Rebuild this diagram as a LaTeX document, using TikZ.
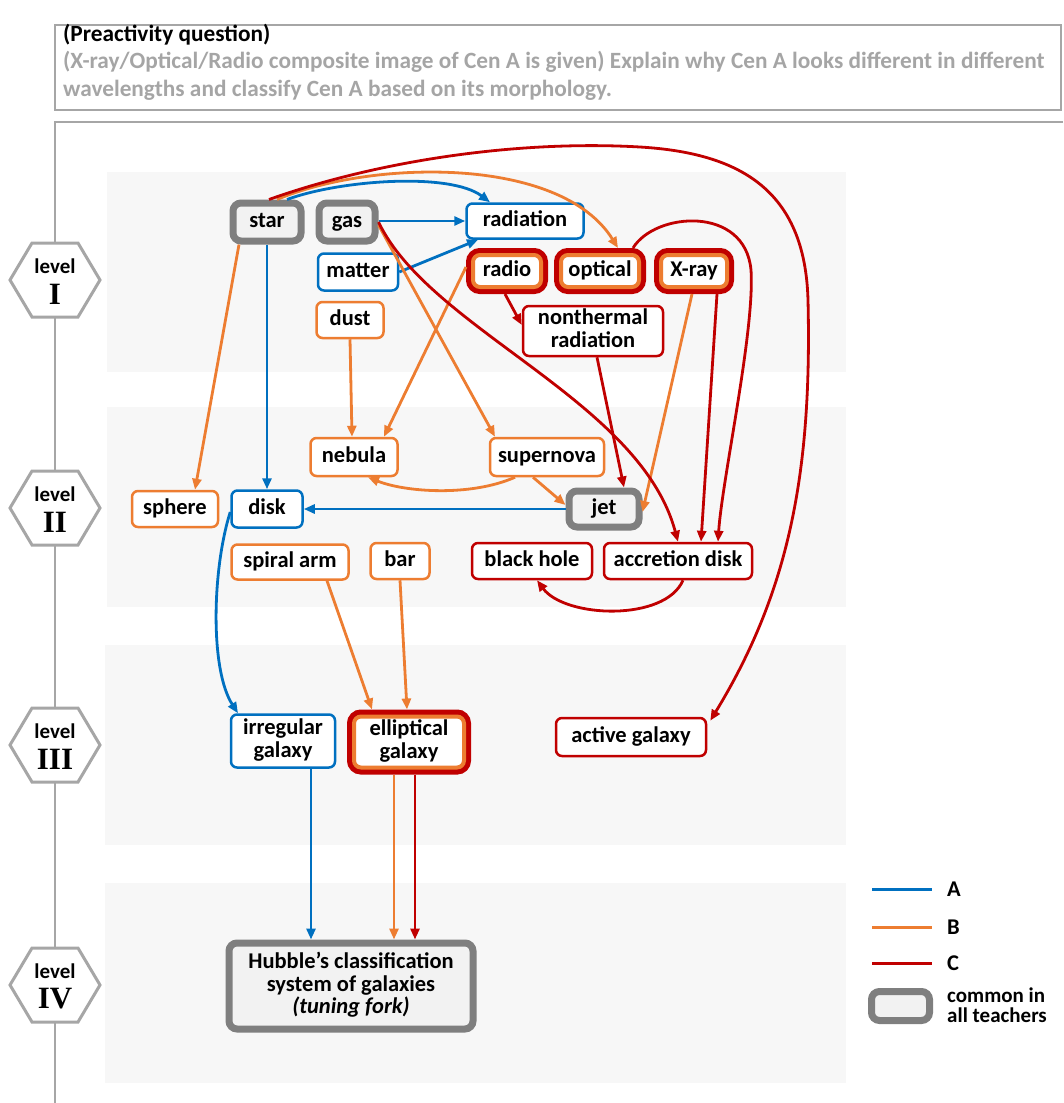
\documentclass[tikz,border=0pt]{standalone}
\usepackage{fontspec}
\setmainfont{Carlito}
\newfontfamily\numfont{Liberation Serif}
\usepackage{xcolor}
\usepackage{tikz}
\usetikzlibrary{arrows.meta}

\definecolor{colA}{HTML}{0070C0}
\definecolor{colB}{HTML}{ED7D31}
\definecolor{colC}{HTML}{C00000}
\definecolor{framegray}{HTML}{A6A6A6}
\definecolor{commongray}{HTML}{7F7F7F}
\definecolor{commonfill}{HTML}{F2F2F2}
\definecolor{bandfill}{HTML}{F7F7F7}
\definecolor{questiongray}{HTML}{A5A5A5}

\tikzset{
    box/.style={rounded corners=6pt, line width=2.5pt, fill=white, inner sep=0pt, align=center,
        font=\fontsize{22.5}{22.5}\selectfont\bfseries, execute at begin node={\rule[-5.6pt]{0pt}{22.6pt}}},
    boxA/.style={box, draw=colA},
    boxB/.style={box, draw=colB},
    boxC/.style={box, draw=colC},
    boxBC/.style={box, draw=colB, line width=4pt, rounded corners=7pt, outer sep=7pt,
        preaction={draw=colC, line width=14pt}},
    common/.style={box, draw=commongray, line width=7pt, fill=commonfill, rounded corners=8pt},
    lineA/.style={colA, line width=2.8pt, -{Triangle[length=11pt,width=9pt]}},
    lineB/.style={colB, line width=2.8pt, -{Triangle[length=11pt,width=9pt]}},
    lineC/.style={colC, line width=2.8pt, -{Triangle[length=11pt,width=9pt]}},
    keyline/.style={line width=3pt},
    hexline/.style={draw=framegray, line width=3pt, fill=white},
    leveltext/.style={font=\fontsize{21}{21}\selectfont\bfseries},
    numtext/.style={font=\numfont\bfseries\fontsize{31}{31}\selectfont},
    plaintext/.style={inner sep=0pt, align=left, font=\fontsize{22.5}{22.5}\selectfont\bfseries}
}

\begin{document}
\begin{tikzpicture}[x=1pt, y=-1pt]
    \useasboundingbox (0,0) rectangle (1063,1103);

    \fill[bandfill] (107,172) rectangle (846,372);
    \fill[bandfill] (107,407) rectangle (846,607);
    \fill[bandfill] (105,645) rectangle (846,845);
    \fill[bandfill] (105,883) rectangle (846,1083);

    \draw[framegray, line width=2.5pt] (55,25) rectangle (1061,110);
    \draw[framegray, line width=2.5pt] (1063,122) -- (55,122) -- (55,1103);

    \node[plaintext, anchor=west, font=\fontsize{23.3}{27.5}\selectfont\bfseries] (question) at (63,62)
        {(Preactivity question)\\
        \textcolor{questiongray}{(X-ray/Optical/Radio composite image of Cen A is given) Explain why Cen A looks different in different}\\
        \textcolor{questiongray}{wavelengths and classify Cen A based on its morphology.}};

    \foreach \lv/\yy in {I/280, II/508, III/745, IV/985} {
        \draw[hexline] (10,\yy) -- (32,\yy-37) -- (78,\yy-37) -- (100,\yy) -- (78,\yy+37) -- (32,\yy+37) -- cycle;
        \node[leveltext] (level\lv) at (55,\yy-14) {level};
        \node[numtext] (num\lv) at (55,\yy+14) {\lv};
    }

    \node[common, minimum width=68pt, minimum height=38pt] (star) at (267,222) {star};
    \node[common, minimum width=56pt, minimum height=38pt] (gas) at (347,222) {gas};
    \node[boxA, minimum width=117pt, minimum height=35pt] (radiation) at (525,221) {radiation};
    \node[boxA, minimum width=80pt, minimum height=37pt] (matter) at (358,272) {matter};
    \node[boxBC, minimum width=68pt, minimum height=32pt] (radio) at (507,271) {radio};
    \node[boxBC, minimum width=78pt, minimum height=32pt] (optical) at (600,271) {optical};
    \node[boxBC, minimum width=66pt, minimum height=32pt] (xray) at (694,271) {X-ray};
    \node[boxB, minimum width=67pt, minimum height=36pt] (dust) at (350,320) {dust};
    \node[boxC, minimum width=140pt, minimum height=50pt] (nonthermal) at (593,331) {nonthermal\\radiation};

    \node[boxB, minimum width=87pt, minimum height=38pt] (nebula) at (354,457) {nebula};
    \node[boxB, minimum width=114pt, minimum height=38pt] (supernova) at (547,457) {supernova};
    \node[boxB, minimum width=86pt, minimum height=36pt] (sphere) at (175,509) {sphere};
    \node[boxA, minimum width=71pt, minimum height=37pt] (disk) at (267,509) {disk};
    \node[common, minimum width=70pt, minimum height=36pt] (jet) at (604,509) {jet};
    \node[boxB, minimum width=117pt, minimum height=35pt] (spiralarm) at (290,562) {spiral arm};
    \node[boxB, minimum width=59pt, minimum height=36pt] (bar) at (400,561) {bar};
    \node[boxC, minimum width=120pt, minimum height=36pt] (blackhole) at (532,561) {black hole};
    \node[boxC, minimum width=148pt, minimum height=36pt] (accretion) at (678,561) {accretion disk};

    \node[boxA, minimum width=104pt, minimum height=53pt] (irregular) at (283,741) {irregular\\galaxy};
    \node[boxBC, minimum width=110pt, minimum height=51pt] (elliptical) at (409,742) {elliptical\\galaxy};
    \node[boxC, minimum width=150pt, minimum height=38pt] (active) at (631,737) {active galaxy};

    \node[common, minimum width=244pt, minimum height=86pt] (hubble) at (351,986)
        {Hubble’s classification\\system of galaxies\\\textit{(tuning fork)}};

    \draw[lineA] ([xshift=20pt]star.north) .. controls (340,180) and (450,172) .. ([xshift=-35pt]radiation.north);
    \draw[lineA] ([yshift=1pt]gas.east) -- (radiation.west);
    \draw[lineA] (matter.east) -- ([xshift=-47pt]radiation.south);
    \draw[lineA] (star.south) -- (disk.north);
    \draw[lineA] (jet.west) -- (disk.east);
    \draw[lineA] ([yshift=-3pt]disk.west) .. controls (212,570) and (210,670) .. ([xshift=-45pt]irregular.north);
    \draw[lineA] ([xshift=28pt]irregular.south) -- ([xshift=-40pt]hubble.north);

    \draw[lineB] ([xshift=10pt]star.north) .. controls (370,160) and (560,155) .. ([xshift=18pt]optical.north);
    \draw[lineB] ([xshift=-28pt]star.south) -- ([xshift=20pt]sphere.north);
    \draw[lineB] ([yshift=-3pt]gas.east) -- ([xshift=-52pt]supernova.north);
    \draw[lineB] (dust.south) -- ([xshift=-2pt]nebula.north);
    \draw[lineB] ([yshift=4pt]radio.west) -- ([xshift=30pt]nebula.north);
    \draw[lineB] ([xshift=-32pt]supernova.south) .. controls (470,497) and (405,492) .. ([xshift=14pt]nebula.south);
    \draw[lineB] ([xshift=-14pt]supernova.south) -- ([yshift=4pt]jet.west);
    \draw[lineB] ([xshift=-2pt]xray.south) -- ([yshift=-3pt]jet.east);
    \draw[lineB] ([xshift=37pt]spiralarm.south) -- ([xshift=-37pt]elliptical.north);
    \draw[lineB] (bar.south) -- ([xshift=-2pt]elliptical.north);
    \draw[lineB] ([xshift=-15pt]elliptical.south) -- ([xshift=43pt]hubble.north);

    \draw[lineC] ([xshift=2pt]star.north) .. controls (380,160) and (520,140) .. (640,147)
        .. controls (740,153) and (805,190) .. (808,300)
        .. controls (812,470) and (790,590) .. ([xshift=3pt,yshift=-4pt]active.north east);
    \draw[lineC] (gas.east) .. controls (430,330) and (640,400) .. (accretion.north);
    \draw[lineC] ([xshift=-2pt]radio.south) -- ([yshift=6pt]nonthermal.west);
    \draw[lineC] ([xshift=4pt]nonthermal.south) -- ([xshift=20pt]jet.north);
    \draw[lineC] ([xshift=33pt]optical.north) .. controls (655,212) and (745,205) .. (751,270)
        .. controls (755,330) and (722,480) .. ([xshift=40pt]accretion.north);
    \draw[lineC] ([xshift=23pt]xray.south) -- ([xshift=23pt]accretion.north);
    \draw[lineC] ([xshift=5pt]accretion.south) .. controls (665,622) and (565,618) .. ([xshift=5pt]blackhole.south);
    \draw[lineC] ([xshift=6pt]elliptical.south) -- ([xshift=64pt]hubble.north);

    \coordinate (keyAstart) at (872,889);
    \coordinate (keyAend) at (932,889);
    \coordinate (keyBstart) at (872,927);
    \coordinate (keyBend) at (932,927);
    \coordinate (keyCstart) at (872,963);
    \coordinate (keyCend) at (932,963);
    \draw[keyline, colA] (keyAstart) -- (keyAend);
    \draw[keyline, colB] (keyBstart) -- (keyBend);
    \draw[keyline, colC] (keyCstart) -- (keyCend);
    \node[plaintext, anchor=west] (keyA) at (947,889) {A};
    \node[plaintext, anchor=west] (keyB) at (947,927) {B};
    \node[plaintext, anchor=west] (keyC) at (947,963) {C};
    \node[common, minimum width=58pt, minimum height=29pt] (keycommon) at (900.5,1006) {};
    \node[plaintext, anchor=west, font=\fontsize{21}{20}\selectfont\bfseries] (keytext) at (947,1005) {common in\\all teachers};
\end{tikzpicture}
\end{document}
